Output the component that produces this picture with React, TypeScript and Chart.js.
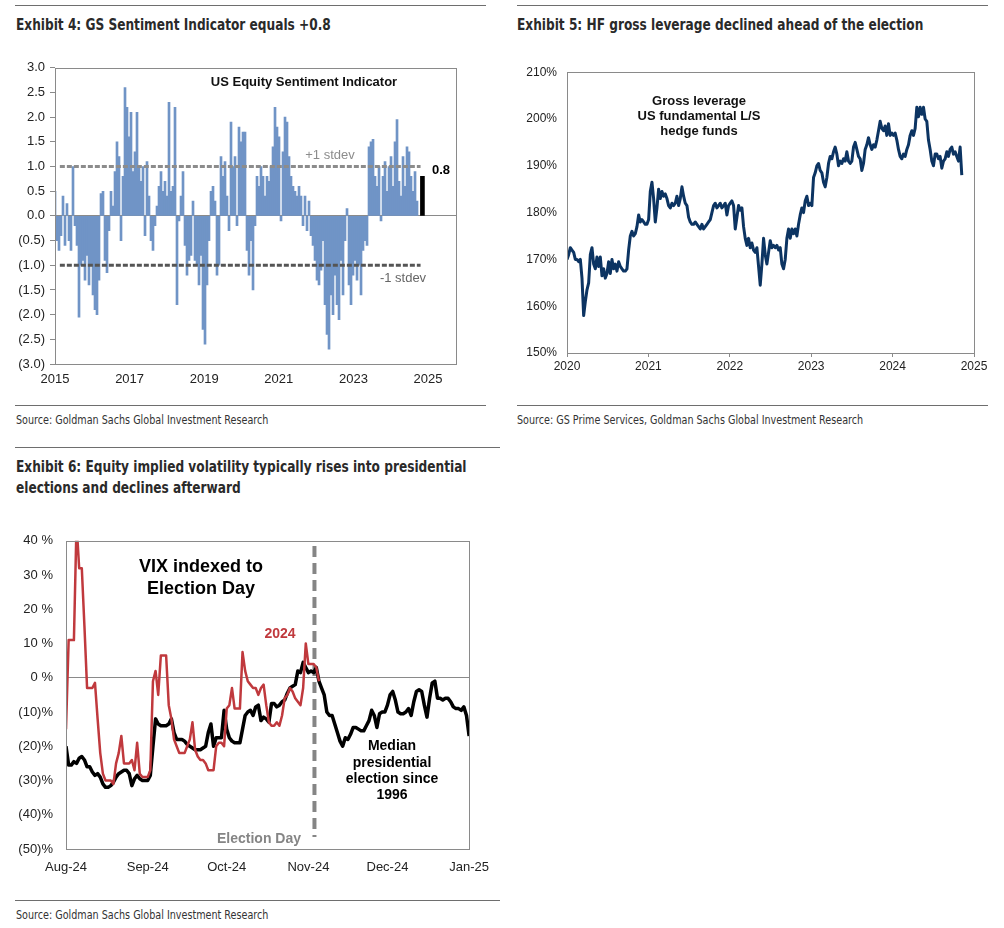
import React, { useEffect, useRef } from 'react';
import { Chart, registerables } from 'chart.js';

Chart.register(...registerables);

// ---------------- Exhibit 4 data: GS US Equity Sentiment Indicator ----------------
const sentiment2015to2018 = [
  0.5, -0.5, -0.7, -0.4, 0.4, -0.6, 0.25, -0.5, -0.7, 1.0,
  -0.2, -0.6, -2.05, -1.0, -0.9, -1.3, -0.8, -1.4, -1.0, -1.6,
  -1.9, -2.0, -1.3, 0.45, 0.5, -0.9, -1.15, -0.3, 0.5, 0.2,
  0.9, 1.5, 1.2, -0.5, 0.8, 2.6, 2.2, 1.6, 2.1, 0.9,
  1.3, 2.1, 1.0, 0.7, 1.0, -0.4, 1.1, 0.4, -0.5, -0.7,
  -0.2, 0.2, 0.6, 0.9, 0.5, 0.7, 0.4, 2.3, 0.5, 0.6,
  2.2, -1.8, -0.1, 0.4, 0.9, -0.6, -1.2, -0.9,
];
const sentiment2018to2022 = [
  -0.8, 0.3, -0.9, -1.0, -1.4, -0.8, -2.3, -2.6, -1.4, -0.5,
  0.5, 0.6, 0.3, -1.2, -1.0, 1.2, 0.8, 1.1, 0.4, -0.3,
  1.9, 1.0, 1.2, -0.2, 1.8, 1.5, 1.7, 1.7, -0.7, -1.2,
  -0.5, -1.5, -0.2, 0.8, 0.6, 1.0, 0.8, 0.4, 0.8, 0.7,
  1.0, 1.4, 2.2, 1.8, 1.6, -0.1, 1.3, 2.0, 1.9, 1.2,
  0.8, 0.6, 0.5, 0.4, 0.6, 0.4, -0.2, 0.4, -0.3, 0.3,
  -0.4, -0.6, -0.9, -1.3, -1.4, -1.1, -0.5, -1.8, -2.4,
];
const sentiment2022to2024 = [
  -2.7, -1.6, -2.0, -1.2, -1.8, -2.1, -0.9, -1.6, -0.5, 0.15,
  -1.4, -1.8, -1.2, -0.9, -1.3, -1.0, -1.6, -0.7, -0.5, -0.6,
  1.4, 1.5, 1.55, 0.8, 0.6, 1.0, -0.1, 0.8, 1.1, 0.5,
  1.0, 1.2, 0.6, 1.5, 1.95, 0.7, 0.4, 1.2, 0.6, 1.4,
  1.3, 0.8, 0.5, 0.9, 0.3,
];
const SENT_FIRST_DATE = 2015.0;
const SENT_LAST_DATE = 2024.705;
const SENT_LATEST_DATE = 2024.85;
const SENT_LATEST_VALUE = 0.8;
const STDEV_UP = 1;
const STDEV_DOWN = -1;
const STDEV_FROM = 2015.13;
const STDEV_TO = 2024.8;
const sentYearTicks = [2015, 2017, 2019, 2021, 2023, 2025];

// ---------------- Exhibit 5 data: HF gross leverage (weekly, %) ----------------
const grossLeverage = [
  170, 171, 172.5, 172, 171.5, 170, 170, 169.5, 170, 166,
  158, 161, 163.5, 165, 171, 172.5, 169, 168, 170.5, 168.5,
  170.5, 166.5, 168, 166, 167, 169.5, 167, 170, 168, 169,
  167.5, 169.5, 168.5, 168, 167.5, 167.5, 168, 172, 175, 176,
  175, 175.5, 177, 179.5, 178, 178.5, 178, 177.5, 177.5, 178.5,
  184.5, 186.5, 183, 178, 181, 185, 183, 184.5, 183.5, 184,
  183, 181.5, 181, 182, 181.5, 182, 183.5, 181.5, 183, 185.5,
  183.5, 182, 181.5, 179, 178, 177.5, 177.5, 178, 177.5, 177,
  176.5, 177.5, 176.5, 177, 177.5, 178, 178.5, 180, 181.5, 182,
  181, 181.5, 182, 181, 181.5, 182, 179.5, 181.5, 182, 182.5,
  181.5, 176.5, 179, 181.5, 180.5, 181, 177, 174.5, 173, 174.5,
  172.5, 173.5, 172, 171.5, 172.5, 168.5, 164.5, 169, 174.5, 171,
  169, 171.5, 174, 172.5, 173, 172.5, 173, 172, 172.5, 169,
  168, 170, 174.5, 176.5, 174.5, 176.5, 175.5, 176.5, 175, 177.5,
  179.5, 181, 180, 182.5, 183.5, 181.5, 182, 181.5, 187.5, 188.5,
  190, 190.5, 189, 188.5, 186.5, 185.5, 187.5, 190.5, 192, 191.5,
  193, 194, 192.5, 190, 191, 190.5, 191.5, 191, 193, 191,
  190.5, 191, 194, 195, 193.5, 192, 191.5, 189, 190.5, 193.5,
  194.5, 196, 194.5, 193.5, 194.5, 194, 195.5, 197.5, 199.5, 198,
  197.5, 198.5, 196.5, 199, 196.5, 197, 196.5, 197, 195.5, 193.5,
  192, 191.5, 192.5, 192, 193.5, 194.5, 196.5, 197.5, 196.5, 198,
  202.5, 200.5, 202.5, 201, 202.5, 200, 199.5, 195.5, 193.5, 191,
  190, 192.5, 192.5, 191.5, 192, 189.5, 191, 191.5, 193, 192,
  193.5, 194, 192.5, 193, 192, 191, 194, 188,
];
const LEV_FIRST_DATE = 2020.0;
const LEV_LAST_DATE = 2024.85;
const levYearTicks = [2020, 2021, 2022, 2023, 2024, 2025];

// ---------------- Exhibit 6 data: VIX indexed to Election Day (daily, % from Aug 1) ----------------
const vix2024 = [
  -15, 11, 11, 11, 45, 32, 32, 15, -3, -3,
  -3, -1.5, -12, -22, -28, -30, -30, -30, -31, -25,
  -22, -17, -25, -25, -25, -24, -27, -19, -28, -29,
  -29, -29, -27, -1, 2, -5, 6.5, 6.5, 6.5, -8,
  -12, -18, -20, -22, -22, -22, -20, -18, -13, -21,
  -23, -24, -24, -25, -27, -27, -27, -20, -19, -19,
  -20, -9, -8, -3, -9, -9, -9, 7.5, 2, -1,
  -2, -3, -3, -5, -3, -2, -8, -13, -14, -14,
  -13, -14, -11, -6, -5, -3, -4, -6, -7, -8,
  -3, 10, 4, 4, 4, 3, -1,
];
const vixMedian = [
  -20, -25.5, -25.5, -24.5, -25, -23.5, -23, -24, -26, -26,
  -27.5, -28.5, -28, -29, -31, -32, -32, -31.5, -30.5, -29,
  -28, -27.5, -27, -27, -28, -31.5, -29.5, -28.5, -29.5, -30,
  -30, -30, -28.5, -20, -12, -13.5, -14, -14, -14, -13.5,
  -12, -16, -18, -18, -18, -18.5, -19.5, -20, -20.5, -21,
  -21, -21, -20.5, -20, -16, -13.5, -20, -17.5, -17.5, -17.5,
  -9.5, -15, -17.5, -18.5, -19, -19, -19, -15, -11, -10,
  -9.5, -11, -8.5, -8, -12.5, -11.5, -12, -13, -7.5, -7.5,
  -8.5, -8, -7, -6.5, -4.5, -3, -2.5, -2, 2, 1.5,
  4.5, 3, 1.5, 2, 1.5, 3, -1, -3, -5, -10,
  -11, -11, -13.5, -16, -18.5, -20, -17.5, -18, -16.5, -14.5,
  -14.5, -15, -15.5, -15.5, -14, -12.5, -9.5, -11, -14.5, -10.5,
  -10, -10, -8, -5, -4, -6.5, -10, -10.5, -10.5, -10,
  -9, -11, -7, -4, -3.5, -4, -8, -11.5, -6, -1.5,
  -1, -6, -6, -6.5, -6, -6, -7, -8.5, -9, -9,
  -9.5, -8.5, -11, -17,
];
const monthTickDays = [0, 31, 61, 92, 122, 153];
const monthTickLabels = ['Aug-24', 'Sep-24', 'Oct-24', 'Nov-24', 'Dec-24', 'Jan-25'];
const ELECTION_DAY = 94.3;
const ELECTION_LINE_TOP = 38.5;
const ELECTION_LINE_BOTTOM = -46.5;

// ---------------- helpers ----------------
const AXIS_FONT = "'Liberation Sans', Arial, sans-serif";
const NARROW_FONT = "'Liberation Sans Narrow', 'Arial Narrow', 'DejaVu Sans Condensed', sans-serif";

const framePlugin = {
  id: 'frame',
  afterDraw(chart: any) {
    const { ctx, chartArea } = chart;
    const { left, top, right, bottom } = chartArea;
    ctx.save();
    ctx.strokeStyle = '#8a8a8a';
    ctx.lineWidth = 1;
    ctx.strokeRect(Math.round(left) + 0.5, Math.round(top) + 0.5, Math.round(right - left), Math.round(bottom - top));
    ctx.restore();
  },
};

function seriesPoints(values: number[], first: number, last: number) {
  const step = (last - first) / (values.length - 1);
  return values.map((v, i) => ({ x: first + i * step, y: v }));
}

function ChartBox({ left, top, width, height, makeConfig }: any) {
  const ref = useRef<HTMLCanvasElement | null>(null);
  useEffect(() => {
    if (!ref.current) return;
    const chart = new Chart(ref.current, makeConfig());
    return () => chart.destroy();
  }, []);
  return (
    <div style={{ position: 'absolute', left, top, width, height }}>
      <canvas ref={ref} width={width} height={height} style={{ display: 'block', width, height }} />
    </div>
  );
}

const basePlugins = { legend: { display: false }, tooltip: { enabled: false } };

// ---------------- configs ----------------
function makeSentimentConfig(): any {
  const sentiment = [...sentiment2015to2018, ...sentiment2018to2022, ...sentiment2022to2024];
  return {
    type: 'bar',
    data: {
      datasets: [
        {
          type: 'line',
          data: [{ x: STDEV_FROM, y: STDEV_UP }, { x: STDEV_TO, y: STDEV_UP }],
          borderColor: '#8c8c8c',
          borderWidth: 3,
          borderDash: [5, 2],
          pointRadius: 0,
          order: 0,
        },
        {
          type: 'line',
          data: [{ x: STDEV_FROM, y: STDEV_DOWN }, { x: STDEV_TO, y: STDEV_DOWN }],
          borderColor: '#555555',
          borderWidth: 3,
          borderDash: [5, 2],
          pointRadius: 0,
          order: 0,
        },
        {
          type: 'bar',
          data: seriesPoints(sentiment, SENT_FIRST_DATE, SENT_LAST_DATE),
          backgroundColor: '#7094c6',
          barThickness: 2,
          grouped: false,
          order: 2,
        },
        {
          type: 'bar',
          data: [{ x: SENT_LATEST_DATE, y: SENT_LATEST_VALUE }],
          backgroundColor: '#000000',
          barThickness: 4,
          grouped: false,
          order: 1,
        },
      ],
    },
    options: {
      responsive: false,
      animation: false,
      events: [],
      layout: { padding: { left: 0, top: 8, right: 14, bottom: 0 } },
      plugins: basePlugins,
      scales: {
        x: {
          type: 'linear',
          min: 2015,
          max: 2025.75,
          offset: false,
          afterBuildTicks: (s: any) => { s.ticks = sentYearTicks.map((v) => ({ value: v })); },
          afterFit: (s: any) => { s.height = 31; },
          grid: { display: true, drawOnChartArea: false, drawTicks: false, offset: false },
          border: { display: false },
          ticks: { font: { family: AXIS_FONT, size: 13 }, color: '#222', padding: 8, maxRotation: 0, autoSkip: false, callback: (v: any) => String(v) },
        },
        y: {
          type: 'linear',
          min: -3,
          max: 3,
          afterBuildTicks: (s: any) => {
            const t = [];
            for (let v = -3; v <= 3.001; v += 0.5) t.push({ value: Math.round(v * 10) / 10 });
            s.ticks = t;
          },
          afterFit: (s: any) => { s.width = 55; },
          grid: {
            drawOnChartArea: true,
            color: (c: any) => (c.tick && c.tick.value === 0 ? '#8a8a8a' : 'rgba(0,0,0,0)'),
            drawTicks: true,
            tickLength: 5,
            tickColor: '#8a8a8a',
          },
          border: { display: false },
          ticks: {
            font: { family: AXIS_FONT, size: 13 },
            color: '#222',
            padding: 5,
            callback: (v: any) => (v < 0 ? `(${Math.abs(v).toFixed(1)})` : Number(v).toFixed(1)),
          },
        },
      },
    },
    plugins: [framePlugin],
  };
}

function makeLeverageConfig(): any {
  return {
    type: 'line',
    data: {
      datasets: [
        {
          data: seriesPoints(grossLeverage, LEV_FIRST_DATE, LEV_LAST_DATE),
          borderColor: '#0c3462',
          borderWidth: 3,
          pointRadius: 0,
          tension: 0,
          borderJoinStyle: 'round',
        },
      ],
    },
    options: {
      responsive: false,
      animation: false,
      events: [],
      layout: { padding: { left: 0, top: 16, right: 30, bottom: 0 } },
      plugins: basePlugins,
      scales: {
        x: {
          type: 'linear',
          min: 2020,
          max: 2025,
          afterBuildTicks: (s: any) => { s.ticks = levYearTicks.map((v) => ({ value: v })); },
          afterFit: (s: any) => { s.height = 32; },
          grid: { drawOnChartArea: false, drawTicks: true, tickLength: 4, tickColor: '#8a8a8a' },
          border: { display: false },
          ticks: { font: { family: AXIS_FONT, size: 12 }, color: '#222', padding: 2, maxRotation: 0, autoSkip: false, callback: (v: any) => String(v) },
        },
        y: {
          type: 'linear',
          min: 150,
          max: 210,
          afterBuildTicks: (s: any) => {
            const t = [];
            for (let v = 150; v <= 210; v += 10) t.push({ value: v });
            s.ticks = t;
          },
          afterFit: (s: any) => { s.width = 67; },
          grid: { drawOnChartArea: false, drawTicks: false },
          border: { display: false },
          ticks: { font: { family: AXIS_FONT, size: 12 }, color: '#222', padding: 10, callback: (v: any) => `${v}%` },
        },
      },
    },
    plugins: [framePlugin],
  };
}

function makeVixConfig(): any {
  return {
    type: 'line',
    data: {
      datasets: [
        {
          data: [{ x: ELECTION_DAY, y: ELECTION_LINE_TOP }, { x: ELECTION_DAY, y: ELECTION_LINE_BOTTOM }],
          borderColor: '#858585',
          borderWidth: 4,
          borderDash: [11, 6],
          pointRadius: 0,
          order: 3,
        },
        {
          data: vixMedian.map((v, i) => ({ x: i, y: v })),
          borderColor: '#000000',
          borderWidth: 3.5,
          pointRadius: 0,
          tension: 0,
          borderJoinStyle: 'round',
          order: 2,
        },
        {
          data: vix2024.map((v, i) => ({ x: i, y: v })),
          borderColor: '#c0393d',
          borderWidth: 2.5,
          pointRadius: 0,
          tension: 0,
          borderJoinStyle: 'round',
          order: 1,
        },
      ],
    },
    options: {
      responsive: false,
      animation: false,
      events: [],
      layout: { padding: { left: 0, top: 18, right: 27, bottom: 0 } },
      plugins: basePlugins,
      scales: {
        x: {
          type: 'linear',
          min: 0,
          max: 153,
          afterBuildTicks: (s: any) => { s.ticks = monthTickDays.map((v) => ({ value: v })); },
          afterFit: (s: any) => { s.height = 31; },
          grid: { drawOnChartArea: false, drawTicks: false },
          border: { display: false },
          ticks: {
            font: { family: AXIS_FONT, size: 13 },
            color: '#222',
            padding: 11,
            maxRotation: 0,
            autoSkip: false,
            callback: (v: any) => monthTickLabels[monthTickDays.indexOf(v)] ?? '',
          },
        },
        y: {
          type: 'linear',
          min: -50,
          max: 40,
          afterBuildTicks: (s: any) => {
            const t = [];
            for (let v = -50; v <= 40; v += 10) t.push({ value: v });
            s.ticks = t;
          },
          afterFit: (s: any) => { s.width = 66; },
          grid: {
            drawOnChartArea: true,
            drawTicks: false,
            color: (c: any) => (c.tick && c.tick.value === 0 ? '#8a8a8a' : 'rgba(0,0,0,0)'),
          },
          border: { display: false },
          ticks: {
            font: { family: AXIS_FONT, size: 13 },
            color: '#222',
            padding: 13,
            callback: (v: any) => (v < 0 ? `(${Math.abs(v)})%` : `${v} %`),
          },
        },
      },
    },
    plugins: [framePlugin],
  };
}

// ---------------- text helpers ----------------
function Txt({ x, y, children, style, left, squeeze }: any) {
  const k = squeeze ?? 1;
  return (
    <div
      style={{
        position: 'absolute',
        left: x,
        top: y,
        transform: left ? `translate(0,-50%) scaleX(${k})` : 'translate(-50%,-50%)',
        transformOrigin: 'left center',
        whiteSpace: 'nowrap',
        lineHeight: 1,
        fontFamily: AXIS_FONT,
        ...style,
      }}
    >
      {children}
    </div>
  );
}

function Rule({ x1, x2, y }: any) {
  return <div style={{ position: 'absolute', left: x1, top: y, width: x2 - x1, height: 1, background: '#6e6e6e' }} />;
}

const TITLE_SQUEEZE = 0.845;
const SOURCE_SQUEEZE = 0.89;
const titleStyle = { fontFamily: NARROW_FONT, fontWeight: 'bold', fontSize: 16, color: '#2a2a2a' };
const sourceStyle = { fontFamily: NARROW_FONT, fontSize: 12, color: '#333' };
const boldNote = { fontWeight: 'bold', fontSize: 13, color: '#111' };

export default function App() {
  return (
    <div style={{ position: 'absolute', left: 0, top: 0, width: 1004, height: 928, background: '#fff', overflow: 'hidden' }}>
      {/* Exhibit 4 */}
      <Rule x1={15} x2={486} y={5} />
      <Txt x={16} y={25} left squeeze={TITLE_SQUEEZE} style={titleStyle}>Exhibit 4: GS Sentiment Indicator equals +0.8</Txt>
      <ChartBox left={0} top={55} width={470} height={340} makeConfig={makeSentimentConfig} />
      <Txt x={304} y={81} style={boldNote}>US Equity Sentiment Indicator</Txt>
      <Txt x={330} y={154} style={{ fontSize: 13, color: '#8c8c8c' }}>+1 stdev</Txt>
      <Txt x={403} y={277} style={{ fontSize: 13, color: '#666' }}>-1 stdev</Txt>
      <Txt x={441} y={169} style={{ fontWeight: 'bold', fontSize: 13, color: '#000' }}>0.8</Txt>
      <Rule x1={15} x2={486} y={405} />
      <Txt x={16} y={420} left squeeze={SOURCE_SQUEEZE} style={sourceStyle}>Source: Goldman Sachs Global Investment Research</Txt>

      {/* Exhibit 5 */}
      <Rule x1={517} x2={988} y={5} />
      <Txt x={517} y={25} left squeeze={TITLE_SQUEEZE} style={titleStyle}>Exhibit 5: HF gross leverage declined ahead of the election</Txt>
      <ChartBox left={500} top={55} width={504} height={330} makeConfig={makeLeverageConfig} />
      <Txt x={699} y={100} style={boldNote}>Gross leverage</Txt>
      <Txt x={699} y={115} style={boldNote}>US fundamental L/S</Txt>
      <Txt x={699} y={130} style={boldNote}>hedge funds</Txt>
      <Rule x1={517} x2={988} y={405} />
      <Txt x={517} y={420} left squeeze={SOURCE_SQUEEZE} style={sourceStyle}>Source: GS Prime Services, Goldman Sachs Global Investment Research</Txt>

      {/* Exhibit 6 */}
      <Rule x1={15} x2={500} y={447} />
      <Txt x={16} y={467} left squeeze={TITLE_SQUEEZE} style={titleStyle}>Exhibit 6: Equity implied volatility typically rises into presidential</Txt>
      <Txt x={16} y={488} left squeeze={TITLE_SQUEEZE} style={titleStyle}>elections and declines afterward</Txt>
      <ChartBox left={0} top={520} width={500} height={360} makeConfig={makeVixConfig} />
      <Txt x={201} y={566} style={{ fontWeight: 'bold', fontSize: 18, color: '#000' }}>VIX indexed to</Txt>
      <Txt x={201} y={588} style={{ fontWeight: 'bold', fontSize: 18, color: '#000' }}>Election Day</Txt>
      <Txt x={280} y={633} style={{ fontWeight: 'bold', fontSize: 14, color: '#c0393d' }}>2024</Txt>
      <Txt x={392} y={745} style={{ fontWeight: 'bold', fontSize: 14, color: '#000' }}>Median</Txt>
      <Txt x={392} y={762} style={{ fontWeight: 'bold', fontSize: 14, color: '#000' }}>presidential</Txt>
      <Txt x={392} y={778} style={{ fontWeight: 'bold', fontSize: 14, color: '#000' }}>election since</Txt>
      <Txt x={392} y={794} style={{ fontWeight: 'bold', fontSize: 14, color: '#000' }}>1996</Txt>
      <Txt x={259} y={838} style={{ fontWeight: 'bold', fontSize: 14, color: '#858585' }}>Election Day</Txt>
      <Rule x1={15} x2={500} y={900} />
      <Txt x={16} y={915} left squeeze={SOURCE_SQUEEZE} style={sourceStyle}>Source: Goldman Sachs Global Investment Research</Txt>
    </div>
  );
}
